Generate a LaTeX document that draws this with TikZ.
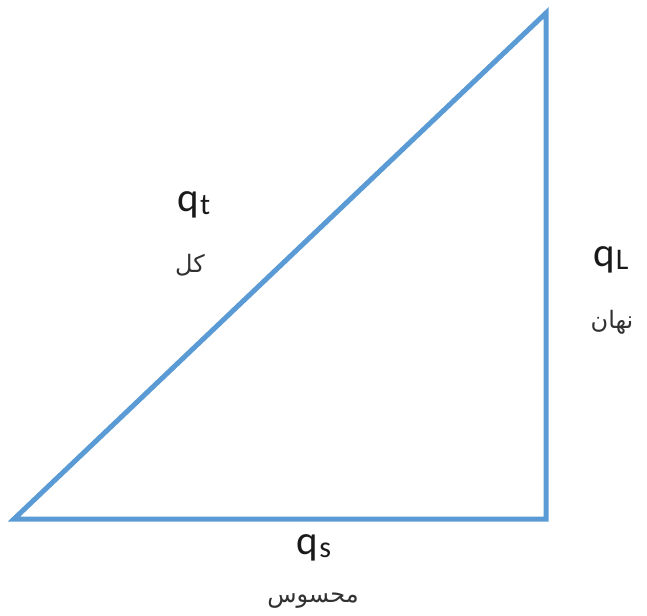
\documentclass[tikz,border=0pt]{standalone}
\usepackage{fontspec}
\setmainfont{Carlito}
\newfontfamily\arabicfont[Script=Arabic]{DejaVu Sans}
\TeXXeTstate=1
\usepackage{tikz}
\usetikzlibrary{positioning}
\definecolor{sideblue}{RGB}{91, 155, 213}
\definecolor{labelgray}{RGB}{50, 50, 50}
\newcommand{\qsub}[1]{q\kern1pt\raisebox{-3pt}{\fontsize{30}{30}\selectfont #1}}

\begin{document}
\begin{tikzpicture}[
    x=1pt, y=-1pt,
    side/.style={draw=sideblue, line width=5pt, line join=miter},
    qlabel/.style={font=\fontsize{41}{43}\selectfont, text=black!90},
    fa/.style={font=\arabicfont\fontsize{24}{26}\selectfont, text=labelgray}
]
\useasboundingbox (0,0) rectangle (647,615);

% Corners of the triangle
\coordinate (a) at (14,519);
\coordinate (b) at (546,519);
\coordinate (c) at (546,13);

% Sides
\draw[side] (a) -- (b) -- (c) -- cycle;

% Labels
\node[qlabel] (qt) at (194,205) {\qsub{t}};
\node[fa] (kol) at (190,265) {\beginR کل\endR};
\node[qlabel] (ql) at (611,260) {\qsub{L}};
\node[fa] (nahan) at (612,322) {\beginR نهان\endR};
\node[qlabel] (qs) at (314,548) {\qsub{s}};
\node[fa] (mahsus) at (313,601) {\beginR محسوس\endR};

\end{tikzpicture}
\end{document}
